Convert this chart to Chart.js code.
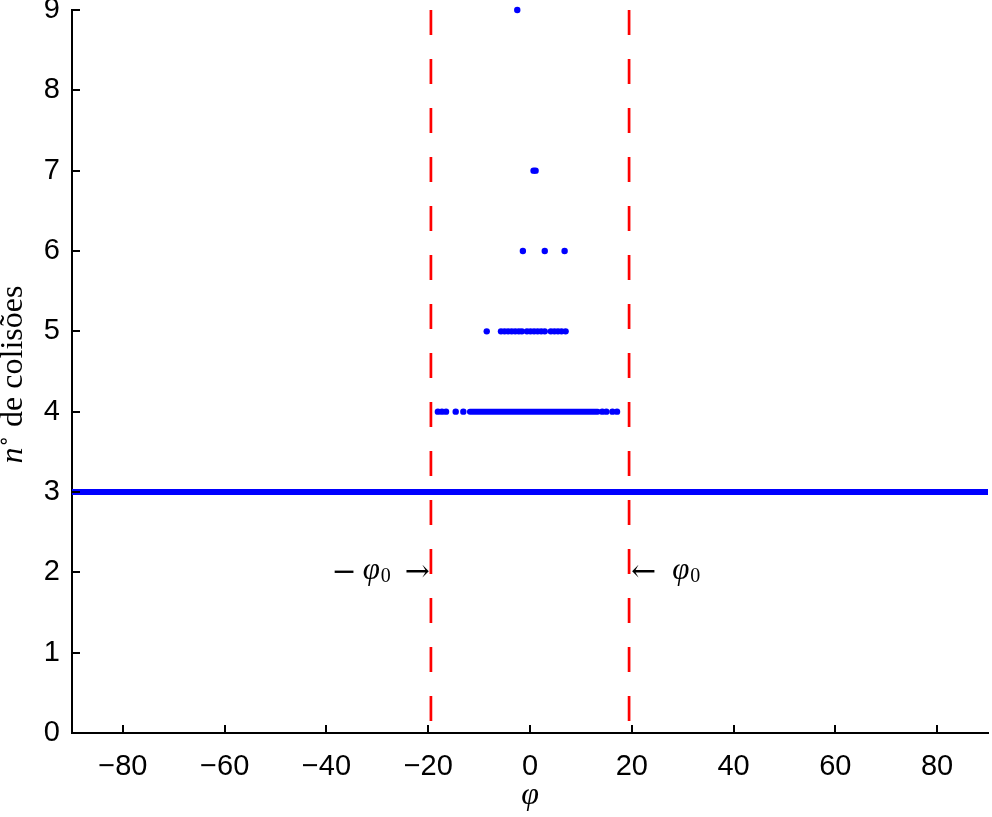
<!DOCTYPE html>
<html lang="pt-br">
<head>
  <meta charset="UTF-8">
  <title>Número de colisões em função de φ</title>
  <script src="https://cdn.jsdelivr.net/npm/chart.js@4"></script>
  <style>
    body { margin: 0; background: #fff; }
    #wrap { width: 992px; height: 817px; position: relative; }
  </style>
</head>
<body>
  <div id="wrap"><canvas id="grafico"></canvas></div>
  <script>
    // eixos
    const xTicks = [-80, -60, -40, -20, 0, 20, 40, 60, 80];
    const yTicks = [0, 1, 2, 3, 4, 5, 6, 7, 8, 9];
    const phi0 = 19.47;

    // faixas contínuas (n = 3 cobre tudo, n = 4 tem um trecho denso)
    const faixaN3 = [-90, 90];
    const faixaN4 = [-11.8, 13.3];

    // pontos isolados por número de colisões
    const pontosN4 = [-18.1, -17.3, -16.5, -14.6, -13.1, 14.2, 15.0, 16.2, 17.1];
    const pontosN5 = [-8.5, -5.7, -5.0, -4.3, -3.6, -2.9, -2.2, -1.6, -0.6, 0.1, 0.8, 1.5, 2.2, 2.9, 4.1, 4.8, 5.5, 6.2, 7.0];
    const pontosN6 = [-1.4, 2.9, 6.8];
    const pontosN7 = [0.7, 1.1];
    const pontosN9 = [-2.5];

    const AZUL = '#0000ff';
    const VERMELHO = '#ff0000';

    const pontos = [];
    pontosN4.forEach(v => pontos.push({x: v, y: 4}));
    pontosN5.forEach(v => pontos.push({x: v, y: 5}));
    pontosN6.forEach(v => pontos.push({x: v, y: 6}));
    pontosN7.forEach(v => pontos.push({x: v, y: 7}));
    pontosN9.forEach(v => pontos.push({x: v, y: 9}));

    function faixa(lim, n, cap) {
      return {
        data: [{x: lim[0], y: n}, {x: lim[1], y: n}],
        showLine: true, borderColor: AZUL, borderWidth: 6,
        borderCapStyle: cap, pointRadius: 0
      };
    }

    function tracejada(x) {
      return {
        data: [{x: x, y: 9}, {x: x, y: 0}],
        showLine: true, borderColor: VERMELHO, borderWidth: 2.7,
        borderDash: [25, 24], pointRadius: 0
      };
    }

    const fmt = v => String(v).replace('-', '\u2212');

    // ticks para dentro, anotações e títulos dos eixos
    const extras = {
      id: 'extras',
      afterDraw(chart) {
        const ctx = chart.ctx;
        const xs = chart.scales.x, ys = chart.scales.y;
        const area = chart.chartArea;
        ctx.save();
        ctx.strokeStyle = '#000';
        ctx.lineWidth = 2;
        xTicks.forEach(v => {
          const px = Math.round(xs.getPixelForValue(v));
          ctx.beginPath(); ctx.moveTo(px, area.bottom); ctx.lineTo(px, area.bottom - 8); ctx.stroke();
        });
        yTicks.forEach(v => {
          const py = Math.round(ys.getPixelForValue(v));
          ctx.beginPath(); ctx.moveTo(area.left, py); ctx.lineTo(area.left + 8, py); ctx.stroke();
        });

        ctx.fillStyle = '#000';
        ctx.textBaseline = 'alphabetic';
        const serif = '"Liberation Serif", serif';
        const yb = ys.getPixelForValue(2) + 10;

        // lado esquerdo: −φ0 →
        let xe = xs.getPixelForValue(-phi0) - 1;
        ctx.textAlign = 'right';
        ctx.font = '30px "DejaVu Serif"';
        ctx.fillText('\u2192', xe, yb - 1);
        xe -= ctx.measureText('\u2192').width + 14;
        ctx.font = '20px ' + serif;
        ctx.fillText('0', xe, yb);
        xe -= ctx.measureText('0').width + 1;
        ctx.font = 'italic 31px ' + serif;
        ctx.fillText('\u03c6', xe, yb - 3);
        xe -= ctx.measureText('\u03c6').width + 6;
        ctx.font = '30px "DejaVu Serif"';
        ctx.fillText('\u2212', xe, yb - 1);

        // lado direito: ← φ0
        let xd = xs.getPixelForValue(phi0) + 2;
        ctx.textAlign = 'left';
        ctx.font = '30px "DejaVu Serif"';
        ctx.fillText('\u2190', xd, yb - 1);
        xd += ctx.measureText('\u2190').width + 16;
        ctx.font = 'italic 31px ' + serif;
        ctx.fillText('\u03c6', xd, yb - 3);
        xd += ctx.measureText('\u03c6').width + 1;
        ctx.font = '20px ' + serif;
        ctx.fillText('0', xd, yb);

        // título do eixo x
        ctx.textAlign = 'center';
        ctx.font = 'italic 32px ' + serif;
        ctx.fillText('\u03c6', (area.left + area.right) / 2, 804);

        // título do eixo y (girado)
        ctx.translate(22, (area.top + area.bottom) / 2 + 3);
        ctx.rotate(-Math.PI / 2);
        const partes = [
          {t: 'n', f: 'italic 32px ' + serif, dy: 0},
          {t: '\u2218', f: '20px "DejaVu Sans"', dy: -12},
          {t: ' de colisões', f: '32px ' + serif, dy: 0}
        ];
        let total = 0;
        partes.forEach(p => { ctx.font = p.f; p.w = ctx.measureText(p.t).width; total += p.w; });
        let cx = -total / 2;
        ctx.textAlign = 'left';
        partes.forEach(p => { ctx.font = p.f; ctx.fillText(p.t, cx, p.dy); cx += p.w; });
        ctx.restore();
      }
    };

    new Chart(document.getElementById('grafico'), {
      type: 'scatter',
      data: {
        datasets: [
          faixa(faixaN3, 3, 'butt'),
          faixa(faixaN4, 4, 'round'),
          {
            data: pontos, backgroundColor: AZUL, borderColor: AZUL,
            pointRadius: 3.2, borderWidth: 0, clip: false
          },
          tracejada(-phi0),
          tracejada(phi0)
        ]
      },
      options: {
        responsive: true,
        maintainAspectRatio: false,
        animation: false,
        layout: { padding: { top: 10, right: 2, left: 0, bottom: 0 } },
        plugins: { legend: { display: false }, tooltip: { enabled: false } },
        scales: {
          x: {
            type: 'linear', min: -90, max: 90,
            grid: { display: false, drawTicks: false },
            border: { display: true, color: '#000', width: 2 },
            afterBuildTicks: s => { s.ticks = xTicks.map(v => ({value: v})); },
            afterFit: s => { s.height = 84; s.paddingLeft = 0; s.paddingRight = 0; },
            ticks: {
              color: '#000', padding: 17, maxRotation: 0,
              font: { family: '"Liberation Sans", Arial, sans-serif', size: 29 },
              callback: v => fmt(v)
            }
          },
          y: {
            type: 'linear', min: 0, max: 9,
            grid: { display: false, drawTicks: false },
            border: { display: true, color: '#000', width: 2 },
            afterBuildTicks: s => { s.ticks = yTicks.map(v => ({value: v})); },
            afterFit: s => { s.width = 72; s.paddingTop = 0; s.paddingBottom = 0; },
            ticks: {
              color: '#000', padding: 12,
              font: { family: '"Liberation Sans", Arial, sans-serif', size: 29 },
              callback: v => fmt(v)
            }
          }
        }
      },
      plugins: [extras]
    });
  </script>
</body>
</html>
